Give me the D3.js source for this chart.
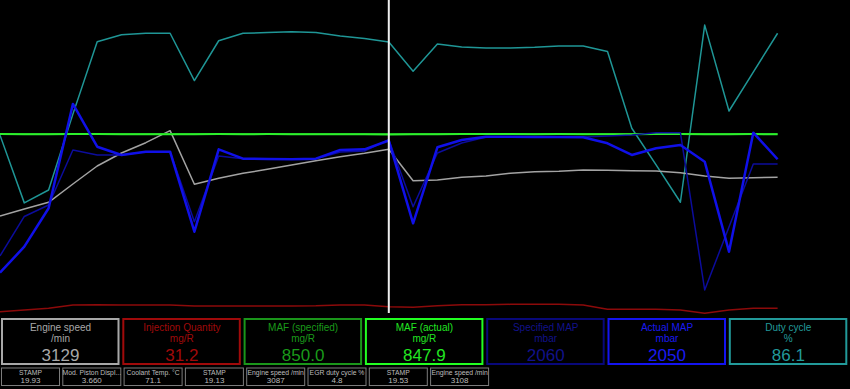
<!DOCTYPE html>
<html>
<head>
	<title>Log trace</title>
	<style type="text/css">
		body{ margin:0; background:#000; }
		svg{ display:block; font-family:"Liberation Sans", Arial, sans-serif; }
	</style>
</head>
<body>

	<svg width=850 height=389 class="trace"></svg>

	<script type="text/javascript" src="https://cdn.jsdelivr.net/npm/d3@7/dist/d3.min.js"></script>

	<script type="text/javascript">

		// samples, one per log frame
		engine_speed = [1846,1981,2110,2462,2808,3058,3256,3487,2456,2571,2667,2744,2827,2910,2987,3052,3129,
			2525,2538,2590,2615,2667,2698,2706,2731,2725,2717,2712,2679,2615,2571,2583,2590]
		injection_qty = [26.8,28.3,29.7,32.6,32.9,32.6,32.6,32.6,31.8,31.8,31.8,31.8,31.8,31.9,32.6,32.6,31.2,
			30.7,32.0,32.9,32.9,33.2,33.2,33.2,32.6,28.9,28.9,28.9,28.3,25.4,28.3,29.7,29.7]
		maf_specified = [850,850,850,850,850,850,850,850,850,850,850,850,850,850,850,850,850,
			850,850,850,850,850,850,850,850,850,850,850,850,850,850,850,850]
		maf_actual = [849.5,849.1,848.6,850.2,849.8,848.9,849.3,849.0,848.4,849.7,849.2,849.6,848.8,849.1,849.4,848.5,847.9,
			848.7,849.3,849.8,850.1,849.6,849.2,849.5,849.0,848.8,849.3,849.6,849.9,849.4,849.1,849.5,849.2]
		map_specified = [670,1142,1279,1937,1877,1877,1916,1916,1080,1865,1833,1829,1829,1833,1913,1925,2060,
			1259,1901,2020,2092,2096,2096,2096,2092,2104,2116,2144,2144,263,1016,1769,1769]
		map_actual = [470,781,1240,2487,1976,1877,1916,1916,960,1945,1833,1829,1826,1833,1937,1945,2050,
			1060,1969,2056,2096,2096,2092,2092,2089,2017,1877,1957,1997,1797,721,2144,1826]
		duty_cycle = [56.4,34.8,38.9,63.1,86.2,88.4,88.9,88.9,73.8,86.5,88.9,89.1,89.4,89.1,88.0,87.2,86.1,
			76.8,85.5,84.5,84.2,84.2,84.4,84.8,84.8,83.1,58.6,46.9,35.0,91.5,64.1,76.5,88.9]

		cursor_index = 16

		// panels under the trace
		panel_titles = ['Engine speed','Injection Quantity','MAF (specified)','MAF (actual)','Specified MAP','Actual MAP','Duty cycle']
		panel_units = ['/min','mg/R','mg/R','mg/R','mbar','mbar','%']
		panel_values = ['3129','31.2','850.0','847.9','2060','2050','86.1']

		stamp_labels = ['STAMP','Mod. Piston Displ...','Coolant Temp. \u00b0C','STAMP','Engine speed /min','EGR duty cycle %','STAMP','Engine speed /min']
		stamp_values = ['19.93','3.660','71.1','19.13','3087','4.8','19.53','3108']

		svg = d3.select('.trace')
		plot_h = 312

		x_scale = d3.scaleLinear().domain([0, engine_speed.length - 1]).range([0, 777.6])

		series = [
			{name:'duty', data:duty_cycle, domain:[0, 99.5], color:'#1f9696', width:1.5},
			{name:'rpm', data:engine_speed, domain:[0, 6000], color:'#a3a3a3', width:1.5},
			{name:'iq', data:injection_qty, domain:[26.5, 300], color:'#8c0a0a', width:1.5},
			{name:'maf_s', data:maf_specified, domain:[0, 1490], color:'#1a8a1a', width:2},
			{name:'maf_a', data:maf_actual, domain:[0, 1490], color:'#2cf02c', width:2},
			{name:'map_s', data:map_specified, domain:[0, 3730], color:'#0c0c9c', width:1.5},
			{name:'map_a', data:map_actual, domain:[0, 3730], color:'#1010e8', width:2.5}
		]

		g_plot = svg.append('g').attr('class', 'g-plot')

		series.forEach(function(s){
			var y = d3.scaleLinear().domain(s.domain).range([plot_h, 0])
			var line = d3.line()
				.x(function(d, i) {return x_scale(i)})
				.y(function(d) {return y(d)})
			g_plot.append('path')
				.datum(s.data)
				.attr('d', line)
				.attr('fill', 'none')
				.attr('stroke', s.color)
				.attr('stroke-width', s.width)
				.attr('stroke-linejoin', 'round')
		})

		g_plot.append('line')
			.attr('x1', x_scale(cursor_index)).attr('x2', x_scale(cursor_index))
			.attr('y1', 0).attr('y2', 313)
			.attr('stroke', '#efefef')
			.attr('stroke-width', 2)

		// big value panels
		panel_border = ['#a8a8a8','#a00a0a','#1a961a','#22ff22','#08087a','#1414f0','#229a9a']
		panel_text = ['#a8a8a8','#a00a0a','#1a9a1a','#22e622','#12128a','#1a1af0','#229a9a']

		panel_x = d3.scaleLinear().domain([0, 1]).range([1, 122.3])

		g_panels = svg.selectAll('.panel')
			.data(panel_titles)
			.enter()
			.append('g')
			.attr('class', 'panel')
			.attr('transform', function(d, i) {return 'translate(' + panel_x(i) + ',318)'})

		g_panels.append('rect')
			.attr('x', 1).attr('y', 1)
			.attr('width', 116.5).attr('height', 45)
			.attr('fill', '#000')
			.attr('stroke', function(d, i) {return panel_border[i]})
			.attr('stroke-width', 2)

		g_panels.append('text')
			.attr('x', 59.5).attr('y', 12.5)
			.attr('text-anchor', 'middle')
			.attr('font-size', 10)
			.attr('fill', function(d, i) {return panel_text[i]})
			.text(function(d) {return d})

		g_panels.append('text')
			.attr('x', 59.5).attr('y', 23.5)
			.attr('text-anchor', 'middle')
			.attr('font-size', 10)
			.attr('fill', function(d, i) {return panel_text[i]})
			.text(function(d, i) {return panel_units[i]})

		g_panels.append('text')
			.attr('x', 59.5).attr('y', 42.5)
			.attr('text-anchor', 'middle')
			.attr('font-size', 17)
			.attr('fill', function(d, i) {return panel_text[i]})
			.text(function(d, i) {return panel_values[i]})

		// small stamp boxes
		stamp_x = d3.scaleLinear().domain([0, 1]).range([1, 62.3])

		g_stamps = svg.selectAll('.stamp')
			.data(stamp_labels)
			.enter()
			.append('g')
			.attr('class', 'stamp')
			.attr('transform', function(d, i) {return 'translate(' + stamp_x(i) + ',367.5)'})

		g_stamps.append('rect')
			.attr('x', 0.5).attr('y', 0.5)
			.attr('width', 58).attr('height', 17.5)
			.attr('fill', '#000')
			.attr('stroke', '#7c7c7c')
			.attr('stroke-width', 1)

		g_stamps.append('text')
			.attr('x', 29.5).attr('y', 7)
			.attr('text-anchor', 'middle')
			.attr('font-size', 6.8)
			.attr('fill', '#bdbdbd')
			.text(function(d) {return d})

		g_stamps.append('text')
			.attr('x', 29.5).attr('y', 15.5)
			.attr('text-anchor', 'middle')
			.attr('font-size', 8)
			.attr('fill', '#bdbdbd')
			.text(function(d, i) {return stamp_values[i]})

	</script>

</body>
</html>
